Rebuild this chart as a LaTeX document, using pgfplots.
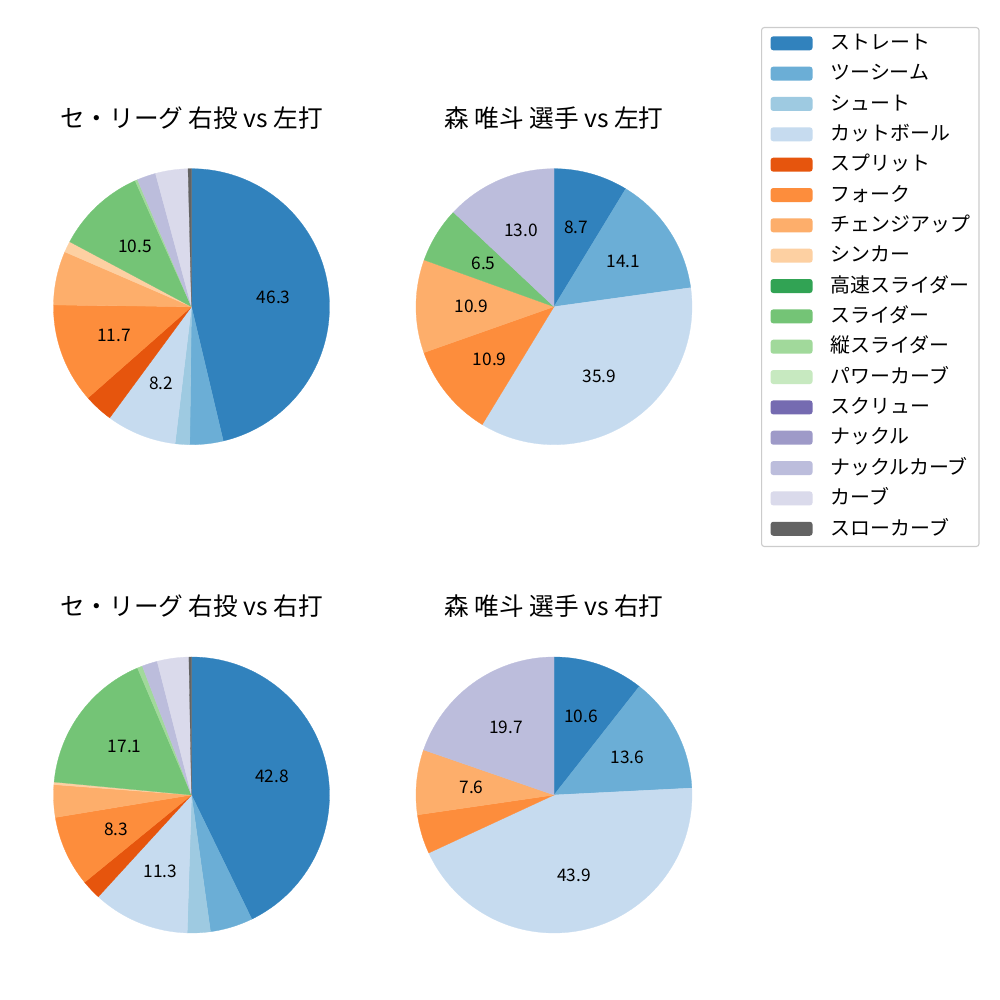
\documentclass[border=0pt]{standalone}
\usepackage{fontspec}
\setmainfont{Noto Sans CJK JP}
\usepackage{pgfplots}
\pgfplotsset{compat=1.18}

\definecolor{c0}{HTML}{3182BD}
\definecolor{c1}{HTML}{6BAED6}
\definecolor{c2}{HTML}{9ECAE1}
\definecolor{c3}{HTML}{C6DBEF}
\definecolor{c4}{HTML}{E6550D}
\definecolor{c5}{HTML}{FD8D3C}
\definecolor{c6}{HTML}{FDAE6B}
\definecolor{c7}{HTML}{FDD0A2}
\definecolor{c8}{HTML}{31A354}
\definecolor{c9}{HTML}{74C476}
\definecolor{c10}{HTML}{A1D99B}
\definecolor{c11}{HTML}{C7E9C0}
\definecolor{c12}{HTML}{756BB1}
\definecolor{c13}{HTML}{9E9AC8}
\definecolor{c14}{HTML}{BCBDDC}
\definecolor{c15}{HTML}{DADAEB}
\definecolor{c16}{HTML}{636363}
\definecolor{legframe}{HTML}{CCCCCC}

\newcommand{\labfont}{\fontsize{12.5}{12.5}\selectfont}
\gdef\cum{0}
% value, colour, label text
\newcommand\slice[3]{%
  \pgfmathsetmacro\sa{90-3.6*\cum}%
  \pgfmathsetmacro\sb{90-3.6*(\cum+#1)}%
  \pgfmathsetmacro\sm{(\sa+\sb)/2}%
  \pgfmathsetmacro\newcum{\cum+#1}%
  \global\let\cum\newcum
  \edef\doit{\noexpand\addplot[forget plot, fill=#2, draw=#2, line width=0.2pt, domain=\sb:\sa, samples=90] ({cos(x)},{sin(x)}) -- (axis cs:0,0) -- cycle;}\doit
  \edef\dolab{\noexpand\node[font=\noexpand\labfont, text=black] at (axis cs:{0.6*cos(\sm)},{0.6*sin(\sm)}) {#3};}\dolab
}

\pgfplotsset{
  pieaxis/.style={
    width=4.14in, height=4.14in, scale only axis,
    xmin=-1.5, xmax=1.5, ymin=-1.5, ymax=1.5,
    hide axis, clip=false, anchor=center,
    title style={at={(0.5,0.9365)}, anchor=center, inner sep=0pt,
      font=\fontsize{17.8}{17.8}\selectfont},
  }
}

\begin{document}
\begin{tikzpicture}
\path[use as bounding box] (0in,0in) rectangle (10in,10in);

% Top-left
\gdef\cum{0}
\begin{axis}[pieaxis, at={(1.915in,6.933in)}, title={セ・リーグ 右投 vs 左打}]
\slice{46.3}{c0}{46.3}
\slice{3.9}{c1}{}
\slice{1.7}{c2}{}
\slice{8.2}{c3}{8.2}
\slice{3.4}{c4}{}
\slice{11.7}{c5}{11.7}
\slice{6.3}{c6}{}
\slice{1.3}{c7}{}
\slice{10.5}{c9}{10.5}
\slice{0.3}{c10}{}
\slice{2.2}{c14}{}
\slice{3.8}{c15}{}
\slice{0.4}{c16}{}
\end{axis}

% Top-right with legend
\gdef\cum{0}
\begin{axis}[pieaxis, at={(5.54in,6.933in)}, title={森 唯斗 選手 vs 左打},
  legend image code/.code={\fill[#1] (0in,-0.06in) rectangle (0.42in,0.08in);},
  legend cell align=left,
  legend style={at={(1.00000,1.1756)}, anchor=north west,
    draw=legframe, line width=0.8pt, rounded corners=2pt, fill=white,
    font=\fontsize{14.4}{14.4}\selectfont,
    inner xsep=0.09in, inner ysep=0.08in,
    row sep=0.1284in, column sep=0.18in,
    nodes={inner sep=0pt, text height=0.14in, text depth=0.035in}},
]
\slice{8.7}{c0}{8.7}
\slice{14.1}{c1}{14.1}
\slice{35.9}{c3}{35.9}
\slice{10.9}{c5}{10.9}
\slice{10.9}{c6}{10.9}
\slice{6.5}{c9}{6.5}
\slice{13.0}{c14}{13.0}
\addlegendimage{fill=c0, draw=none}\addlegendentry{ストレート}
\addlegendimage{fill=c1, draw=none}\addlegendentry{ツーシーム}
\addlegendimage{fill=c2, draw=none}\addlegendentry{シュート}
\addlegendimage{fill=c3, draw=none}\addlegendentry{カットボール}
\addlegendimage{fill=c4, draw=none}\addlegendentry{スプリット}
\addlegendimage{fill=c5, draw=none}\addlegendentry{フォーク}
\addlegendimage{fill=c6, draw=none}\addlegendentry{チェンジアップ}
\addlegendimage{fill=c7, draw=none}\addlegendentry{シンカー}
\addlegendimage{fill=c8, draw=none}\addlegendentry{高速スライダー}
\addlegendimage{fill=c9, draw=none}\addlegendentry{スライダー}
\addlegendimage{fill=c10, draw=none}\addlegendentry{縦スライダー}
\addlegendimage{fill=c11, draw=none}\addlegendentry{パワーカーブ}
\addlegendimage{fill=c12, draw=none}\addlegendentry{スクリュー}
\addlegendimage{fill=c13, draw=none}\addlegendentry{ナックル}
\addlegendimage{fill=c14, draw=none}\addlegendentry{ナックルカーブ}
\addlegendimage{fill=c15, draw=none}\addlegendentry{カーブ}
\addlegendimage{fill=c16, draw=none}\addlegendentry{スローカーブ}
\end{axis}

% Bottom-left
\gdef\cum{0}
\begin{axis}[pieaxis, at={(1.915in,2.05in)}, title={セ・リーグ 右投 vs 右打}]
\slice{42.8}{c0}{42.8}
\slice{5.0}{c1}{}
\slice{2.7}{c2}{}
\slice{11.3}{c3}{11.3}
\slice{2.3}{c4}{}
\slice{8.3}{c5}{8.3}
\slice{3.8}{c6}{}
\slice{0.3}{c7}{}
\slice{17.1}{c9}{17.1}
\slice{0.6}{c10}{}
\slice{1.8}{c14}{}
\slice{3.7}{c15}{}
\slice{0.3}{c16}{}
\end{axis}

% Bottom-right
\gdef\cum{0}
\begin{axis}[pieaxis, at={(5.54in,2.05in)}, title={森 唯斗 選手 vs 右打}]
\slice{10.6}{c0}{10.6}
\slice{13.6}{c1}{13.6}
\slice{43.9}{c3}{43.9}
\slice{4.6}{c5}{}
\slice{7.6}{c6}{7.6}
\slice{19.7}{c14}{19.7}
\end{axis}
\end{tikzpicture}
\end{document}
